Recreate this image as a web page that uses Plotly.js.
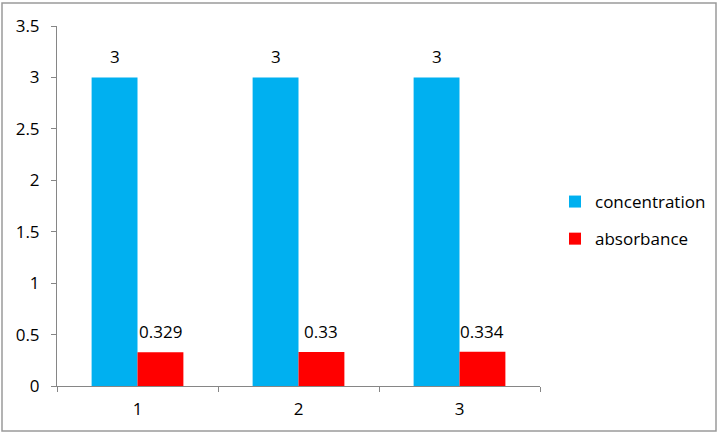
<!DOCTYPE html>
<html>
<head>
<meta charset="utf-8">
<script src="https://cdn.plot.ly/plotly-3.0.1.min.js"></script>
<style>html,body{margin:0;padding:0;background:#fff;}#chart{width:724px;height:434px;}</style>
</head>
<body>
<div id="chart"></div>
<script>
const categories = ["1", "2", "3"];
const concentration = [3, 3, 3];
const absorbance = [0.329, 0.33, 0.334];
const seriesNames = ["concentration", "absorbance"];
const yTicks = [0, 0.5, 1, 1.5, 2, 2.5, 3, 3.5];

const FONT = "Open Sans, Liberation Sans, sans-serif";
const FS = 17;

const L = 57, R = 540, T = 26, B = 386, W = 724, H = 434;
const pw = R - L, ph = B - T;
const BARGAP = 0.43;
const halfBar = (pw / categories.length) * (1 - BARGAP) / 4;

const traces = [
  {
    type: "bar", name: seriesNames[0], x: categories, y: concentration,
    marker: {color: "#00b0f0"}, legendgroup: "a", hoverinfo: "none"
  },
  {
    type: "bar", name: seriesNames[1], x: categories, y: absorbance,
    marker: {color: "#ff0000"}, legendgroup: "b", hoverinfo: "none"
  }
];

const annotations = [];
[[concentration, -1], [absorbance, 1]].forEach(([vals, side]) => {
  vals.forEach((v, i) => {
    annotations.push({
      xref: "x", yref: "y", x: i, y: v,
      text: String(v), showarrow: false,
      xanchor: "center", yanchor: "bottom",
      xshift: side * halfBar, yshift: 7,
      font: {family: FONT, size: FS, color: "#000"}
    });
  });
});

const layout = {
  width: W, height: H,
  margin: {l: L, r: W - R, t: T, b: H - B, pad: 0},
  paper_bgcolor: "#fff", plot_bgcolor: "#fff",
  font: {family: FONT, size: FS, color: "#000"},
  barmode: "group", bargap: BARGAP, bargroupgap: 0,
  showlegend: true,
  legend: {
    x: (555 - L) / pw, y: (B - 184) / ph, xanchor: "left", yanchor: "top",
    font: {family: FONT, size: FS, color: "#000"},
    tracegroupgap: 12, itemwidth: 30, bgcolor: "rgba(0,0,0,0)"
  },
  xaxis: {
    type: "category", categoryarray: categories, categoryorder: "array",
    range: [-0.5, categories.length - 0.5],
    showgrid: false, zeroline: false,
    showline: true, linecolor: "#868686", linewidth: 1,
    ticks: "outside", ticklen: 5, tickcolor: "#868686", tickson: "boundaries",
    ticklabelstandoff: 8,
    tickfont: {family: FONT, size: FS, color: "#000"}
  },
  yaxis: {
    range: [0, 3.5], tickmode: "array", tickvals: yTicks,
    ticktext: yTicks.map(v => String(v)),
    showgrid: false, zeroline: false,
    showline: true, linecolor: "#868686", linewidth: 1,
    ticks: "outside", ticklen: 5, tickcolor: "#868686",
    ticklabelstandoff: 8,
    tickfont: {family: FONT, size: FS, color: "#000"}
  },
  annotations: annotations,
  shapes: [{
    type: "rect", xref: "paper", yref: "paper",
    x0: (2 - L) / pw, x1: (716 - L) / pw,
    y0: (B - 431) / ph, y1: (B - 3) / ph,
    line: {color: "#9a9a9a", width: 1.5}, fillcolor: "rgba(0,0,0,0)"
  }]
};

Plotly.newPlot("chart", traces, layout, {staticPlot: true, displayModeBar: false});
</script>
</body>
</html>
